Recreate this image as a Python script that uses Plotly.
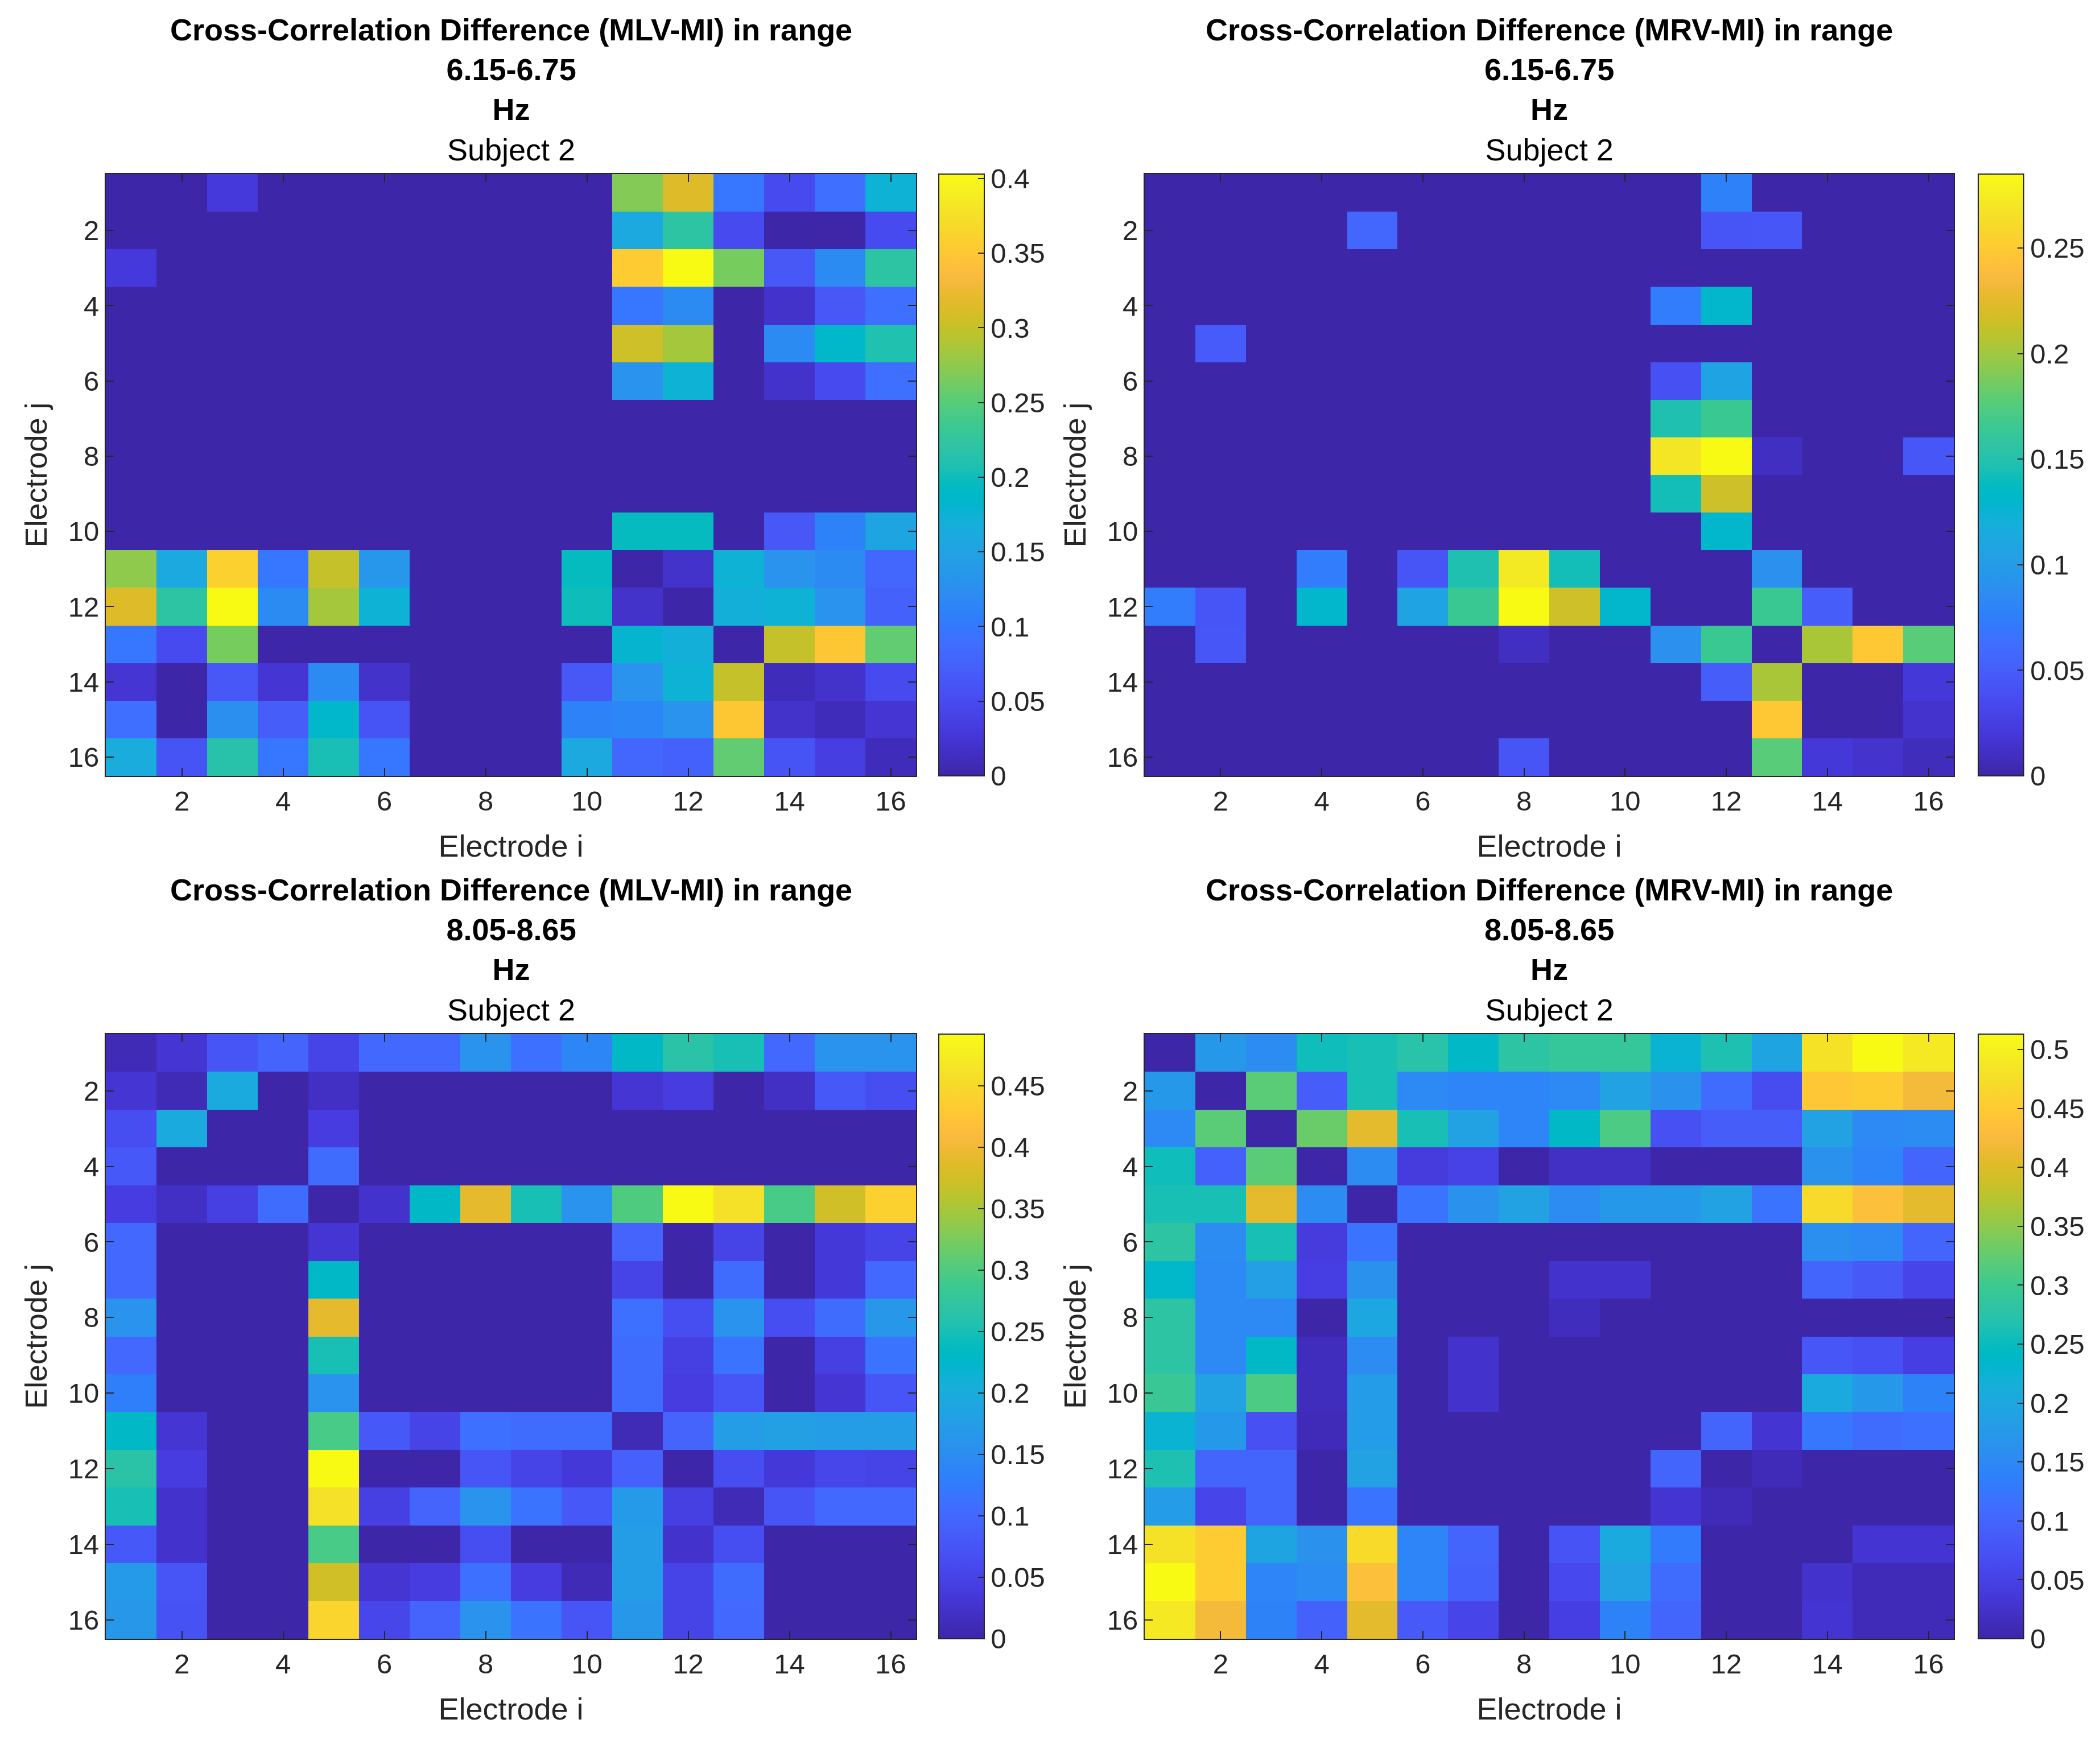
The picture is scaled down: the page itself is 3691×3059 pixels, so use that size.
import plotly.graph_objects as go

# electrode indices
electrodes = list(range(1, 17))

# Cross-correlation differences, rows = electrode j (1..16), cols = electrode i (1..16)
mlv_low = [
    [0, 0, 0.03, 0, 0, 0, 0, 0, 0, 0, 0.27, 0.315, 0.097, 0.05, 0.09, 0.175],
    [0, 0, 0, 0, 0, 0, 0, 0, 0, 0, 0.16, 0.22, 0.05, 0, 0, 0.05],
    [0.03, 0, 0, 0, 0, 0, 0, 0, 0, 0, 0.355, 0.403, 0.265, 0.065, 0.12, 0.22],
    [0, 0, 0, 0, 0, 0, 0, 0, 0, 0, 0.097, 0.12, 0, 0.02, 0.065, 0.09],
    [0, 0, 0, 0, 0, 0, 0, 0, 0, 0, 0.305, 0.285, 0, 0.12, 0.185, 0.21],
    [0, 0, 0, 0, 0, 0, 0, 0, 0, 0, 0.13, 0.175, 0, 0.02, 0.05, 0.09],
    [0, 0, 0, 0, 0, 0, 0, 0, 0, 0, 0, 0, 0, 0, 0, 0],
    [0, 0, 0, 0, 0, 0, 0, 0, 0, 0, 0, 0, 0, 0, 0, 0],
    [0, 0, 0, 0, 0, 0, 0, 0, 0, 0, 0, 0, 0, 0, 0, 0],
    [0, 0, 0, 0, 0, 0, 0, 0, 0, 0, 0.195, 0.195, 0, 0.065, 0.11, 0.155],
    [0.275, 0.16, 0.36, 0.097, 0.30, 0.135, 0, 0, 0, 0.195, 0, 0.02, 0.175, 0.13, 0.12, 0.08],
    [0.315, 0.22, 0.403, 0.12, 0.285, 0.175, 0, 0, 0, 0.20, 0.02, 0, 0.17, 0.175, 0.13, 0.075],
    [0.097, 0.05, 0.265, 0, 0, 0, 0, 0, 0, 0, 0.18, 0.17, 0, 0.30, 0.35, 0.255],
    [0.025, 0, 0.065, 0.025, 0.12, 0.02, 0, 0, 0, 0.065, 0.13, 0.175, 0.30, 0.01, 0.02, 0.05],
    [0.09, 0, 0.125, 0.07, 0.185, 0.06, 0, 0, 0, 0.11, 0.115, 0.13, 0.35, 0.02, 0.01, 0.025],
    [0.165, 0.06, 0.215, 0.097, 0.205, 0.097, 0, 0, 0, 0.16, 0.08, 0.075, 0.255, 0.06, 0.035, 0.01],
]

mrv_low = [
    [0, 0, 0, 0, 0, 0, 0, 0, 0, 0, 0, 0.077, 0, 0, 0, 0],
    [0, 0, 0, 0, 0.057, 0, 0, 0, 0, 0, 0, 0.043, 0.045, 0, 0, 0],
    [0, 0, 0, 0, 0, 0, 0, 0, 0, 0, 0, 0, 0, 0, 0, 0],
    [0, 0, 0, 0, 0, 0, 0, 0, 0, 0, 0.074, 0.13, 0, 0, 0, 0],
    [0, 0.048, 0, 0, 0, 0, 0, 0, 0, 0, 0, 0, 0, 0, 0, 0],
    [0, 0, 0, 0, 0, 0, 0, 0, 0, 0, 0.04, 0.108, 0, 0, 0, 0],
    [0, 0, 0, 0, 0, 0, 0, 0, 0, 0, 0.148, 0.165, 0, 0, 0, 0],
    [0, 0, 0, 0, 0, 0, 0, 0, 0, 0, 0.27, 0.285, 0.01, 0, 0, 0.045],
    [0, 0, 0, 0, 0, 0, 0, 0, 0, 0, 0.143, 0.216, 0, 0, 0, 0],
    [0, 0, 0, 0, 0, 0, 0, 0, 0, 0, 0, 0.13, 0, 0, 0, 0],
    [0, 0, 0, 0.074, 0, 0.043, 0.148, 0.273, 0.143, 0, 0, 0, 0.09, 0, 0, 0],
    [0.074, 0.043, 0, 0.13, 0, 0.108, 0.165, 0.285, 0.216, 0.13, 0, 0, 0.165, 0.05, 0, 0],
    [0, 0.045, 0, 0, 0, 0, 0, 0.01, 0, 0, 0.09, 0.165, 0, 0.203, 0.248, 0.177],
    [0, 0, 0, 0, 0, 0, 0, 0, 0, 0, 0, 0.05, 0.203, 0, 0, 0.02],
    [0, 0, 0, 0, 0, 0, 0, 0, 0, 0, 0, 0, 0.248, 0, 0, 0.015],
    [0, 0, 0, 0, 0, 0, 0, 0.043, 0, 0, 0, 0, 0.177, 0.02, 0.015, 0.008],
]

mlv_high = [
    [0.01, 0.03, 0.075, 0.095, 0.05, 0.10, 0.10, 0.16, 0.11, 0.14, 0.23, 0.265, 0.25, 0.10, 0.16, 0.16],
    [0.03, 0.01, 0.197, 0, 0.02, 0, 0, 0, 0, 0, 0.03, 0.04, 0, 0.02, 0.08, 0.065],
    [0.065, 0.197, 0, 0, 0.04, 0, 0, 0, 0, 0, 0, 0, 0, 0, 0, 0],
    [0.08, 0, 0, 0, 0.105, 0, 0, 0, 0, 0, 0, 0, 0, 0, 0, 0],
    [0.04, 0.02, 0.045, 0.105, 0, 0.025, 0.23, 0.39, 0.25, 0.16, 0.30, 0.492, 0.46, 0.295, 0.375, 0.44],
    [0.10, 0, 0, 0, 0.03, 0, 0, 0, 0, 0, 0.095, 0, 0.05, 0, 0.035, 0.05],
    [0.10, 0, 0, 0, 0.23, 0, 0, 0, 0, 0, 0.05, 0, 0.105, 0, 0.035, 0.10],
    [0.16, 0, 0, 0, 0.39, 0, 0, 0, 0, 0, 0.11, 0.065, 0.16, 0.065, 0.105, 0.165],
    [0.10, 0, 0, 0, 0.25, 0, 0, 0, 0, 0, 0.105, 0.045, 0.115, 0, 0.045, 0.115],
    [0.13, 0, 0, 0, 0.16, 0, 0, 0, 0, 0, 0.105, 0.04, 0.075, 0, 0.03, 0.075],
    [0.23, 0.03, 0, 0, 0.295, 0.08, 0.05, 0.11, 0.105, 0.105, 0.01, 0.095, 0.175, 0.18, 0.175, 0.175],
    [0.265, 0.04, 0, 0, 0.492, 0, 0, 0.075, 0.05, 0.035, 0.09, 0, 0.065, 0.035, 0.055, 0.05],
    [0.25, 0.025, 0, 0, 0.46, 0.045, 0.095, 0.16, 0.115, 0.08, 0.17, 0.045, 0.01, 0.075, 0.10, 0.10],
    [0.08, 0.025, 0, 0, 0.295, 0, 0, 0.065, 0, 0, 0.175, 0.025, 0.065, 0, 0, 0],
    [0.17, 0.075, 0, 0, 0.375, 0.03, 0.04, 0.11, 0.04, 0.01, 0.175, 0.05, 0.105, 0, 0, 0],
    [0.165, 0.07, 0, 0, 0.445, 0.055, 0.095, 0.16, 0.115, 0.075, 0.165, 0.05, 0.10, 0, 0, 0],
]

mrv_high = [
    [0, 0.175, 0.155, 0.255, 0.26, 0.275, 0.24, 0.28, 0.29, 0.29, 0.225, 0.265, 0.195, 0.48, 0.513, 0.49],
    [0.175, 0, 0.32, 0.09, 0.26, 0.15, 0.145, 0.145, 0.15, 0.19, 0.165, 0.11, 0.065, 0.445, 0.45, 0.42],
    [0.15, 0.32, 0, 0.33, 0.405, 0.26, 0.19, 0.145, 0.24, 0.31, 0.07, 0.09, 0.09, 0.19, 0.15, 0.155],
    [0.255, 0.095, 0.32, 0, 0.155, 0.04, 0.05, 0, 0.02, 0.02, 0, 0, 0, 0.165, 0.145, 0.10],
    [0.26, 0.26, 0.405, 0.155, 0, 0.12, 0.165, 0.19, 0.155, 0.175, 0.175, 0.19, 0.12, 0.47, 0.435, 0.405],
    [0.28, 0.155, 0.26, 0.04, 0.12, 0, 0, 0, 0, 0, 0, 0, 0, 0.16, 0.15, 0.10],
    [0.235, 0.15, 0.185, 0.045, 0.165, 0, 0, 0, 0.025, 0.025, 0, 0, 0, 0.10, 0.085, 0.055],
    [0.28, 0.15, 0.15, 0, 0.2, 0, 0, 0, 0.015, 0, 0, 0, 0, 0, 0, 0],
    [0.28, 0.15, 0.24, 0.015, 0.155, 0, 0.025, 0, 0, 0, 0, 0, 0, 0.08, 0.07, 0.045],
    [0.295, 0.19, 0.31, 0.015, 0.18, 0, 0.025, 0, 0, 0, 0, 0, 0, 0.205, 0.175, 0.14],
    [0.225, 0.175, 0.07, 0.01, 0.18, 0, 0, 0, 0, 0, 0, 0.10, 0.03, 0.125, 0.11, 0.115],
    [0.265, 0.10, 0.10, 0, 0.19, 0, 0, 0, 0, 0, 0.10, 0, 0.01, 0, 0, 0],
    [0.18, 0.055, 0.10, 0, 0.12, 0, 0, 0, 0, 0, 0.03, 0.01, 0, 0, 0, 0],
    [0.48, 0.45, 0.195, 0.165, 0.47, 0.145, 0.10, 0, 0.075, 0.205, 0.13, 0, 0, 0, 0.03, 0.03],
    [0.513, 0.45, 0.145, 0.155, 0.435, 0.145, 0.095, 0, 0.06, 0.19, 0.11, 0, 0, 0.025, 0.01, 0.01],
    [0.49, 0.42, 0.14, 0.095, 0.405, 0.085, 0.055, 0, 0.045, 0.14, 0.10, 0, 0, 0.03, 0.01, 0.01],
]

panels = [
    ("MLV-MI", "6.15-6.75", mlv_low),
    ("MRV-MI", "6.15-6.75", mrv_low),
    ("MLV-MI", "8.05-8.65", mlv_high),
    ("MRV-MI", "8.05-8.65", mrv_high),
]
cbar_ticks = [
    [0, 0.05, 0.1, 0.15, 0.2, 0.25, 0.3, 0.35, 0.4],
    [0, 0.05, 0.1, 0.15, 0.2, 0.25],
    [0, 0.05, 0.1, 0.15, 0.2, 0.25, 0.3, 0.35, 0.4, 0.45],
    [0, 0.05, 0.1, 0.15, 0.2, 0.25, 0.3, 0.35, 0.4, 0.45, 0.5],
]

# MATLAB parula (64)
parula = [
    (0.2422, 0.1504, 0.6603), (0.2504, 0.1650, 0.7076), (0.2578, 0.1818, 0.7511), (0.2647, 0.1978, 0.7952),
    (0.2706, 0.2147, 0.8364), (0.2751, 0.2342, 0.8710), (0.2783, 0.2559, 0.8991), (0.2803, 0.2782, 0.9221),
    (0.2813, 0.3006, 0.9414), (0.2810, 0.3228, 0.9579), (0.2795, 0.3447, 0.9717), (0.2760, 0.3667, 0.9829),
    (0.2699, 0.3892, 0.9906), (0.2602, 0.4123, 0.9952), (0.2440, 0.4358, 0.9988), (0.2206, 0.4603, 0.9973),
    (0.1963, 0.4847, 0.9892), (0.1834, 0.5074, 0.9798), (0.1786, 0.5289, 0.9682), (0.1764, 0.5499, 0.9520),
    (0.1687, 0.5703, 0.9359), (0.1540, 0.5902, 0.9218), (0.1460, 0.6091, 0.9079), (0.1380, 0.6276, 0.8973),
    (0.1248, 0.6459, 0.8883), (0.1113, 0.6635, 0.8763), (0.0952, 0.6798, 0.8598), (0.0689, 0.6948, 0.8394),
    (0.0297, 0.7082, 0.8163), (0.0036, 0.7203, 0.7917), (0.0067, 0.7312, 0.7660), (0.0433, 0.7411, 0.7394),
    (0.0964, 0.7500, 0.7120), (0.1408, 0.7584, 0.6842), (0.1717, 0.7670, 0.6554), (0.1938, 0.7758, 0.6251),
    (0.2161, 0.7843, 0.5923), (0.2470, 0.7918, 0.5567), (0.2906, 0.7973, 0.5188), (0.3406, 0.8008, 0.4789),
    (0.3909, 0.8029, 0.4354), (0.4456, 0.8024, 0.3909), (0.5044, 0.7993, 0.3480), (0.5616, 0.7942, 0.3045),
    (0.6174, 0.7876, 0.2612), (0.6720, 0.7793, 0.2227), (0.7242, 0.7698, 0.1910), (0.7738, 0.7598, 0.1646),
    (0.8203, 0.7498, 0.1535), (0.8634, 0.7406, 0.1596), (0.9035, 0.7330, 0.1774), (0.9393, 0.7288, 0.2100),
    (0.9728, 0.7298, 0.2394), (0.9956, 0.7434, 0.2371), (0.9970, 0.7659, 0.2199), (0.9952, 0.7893, 0.2028),
    (0.9892, 0.8136, 0.1885), (0.9786, 0.8386, 0.1766), (0.9676, 0.8639, 0.1643), (0.9610, 0.8890, 0.1537),
    (0.9597, 0.9135, 0.1423), (0.9628, 0.9373, 0.1265), (0.9691, 0.9606, 0.1064), (0.9769, 0.9839, 0.0805),
]
colorscale = [[i / 63, "rgb(%d,%d,%d)" % (r * 255, g * 255, b * 255)] for i, (r, g, b) in enumerate(parula)]

# the page body has an 8px margin, so work in page pixels minus 8
OFF = 8
W, H = 3691 - 2 * OFF, 3059 - 2 * OFF
FONT = "Liberation Sans, Arial, Helvetica, sans-serif"
AX = "#262626"


def px_x(v):
    return (v - OFF) / W


def px_y(v):
    return 1 - (v - OFF) / H


x_doms = [[px_x(186), px_x(1610)], [px_x(2012), px_x(3434)]]
y_doms = [[px_y(1364), px_y(306)], [px_y(2881), px_y(1818)]]
cbar_x = [px_x(1650), px_x(3477)]

fig = go.Figure()
layout = {}
annotations = []

for k, (pair, band, z) in enumerate(panels):
    row, col = divmod(k, 2)
    n = "" if k == 0 else str(k + 1)
    xd, yd = x_doms[col], y_doms[row]
    fig.add_trace(go.Heatmap(
        z=z, x=electrodes, y=electrodes,
        xaxis="x" + n, yaxis="y" + n,
        colorscale=colorscale, zmin=0,
        colorbar=dict(
            x=cbar_x[col], xanchor="left", xpad=0, ypad=0,
            y=(yd[0] + yd[1]) / 2, yanchor="middle", len=yd[1] - yd[0], lenmode="fraction",
            thickness=80, outlinewidth=2, outlinecolor=AX,
            ticks="inside", ticklen=12, tickwidth=2, tickcolor=AX,
            tickvals=cbar_ticks[k], ticktext=["%g" % v for v in cbar_ticks[k]],
            tickfont=dict(family=FONT, size=49, color=AX),
        ),
    ))
    layout["xaxis" + n] = dict(
        domain=xd, anchor="y" + n, range=[0.5, 16.5],
        tickvals=list(range(2, 17, 2)), ticks="inside", ticklen=14, tickwidth=2, tickcolor=AX,
        showline=True, linecolor=AX, linewidth=2, mirror="ticks", showgrid=False, zeroline=False,
        tickfont=dict(family=FONT, size=49, color=AX),
        title=dict(text="Electrode i", font=dict(family=FONT, size=54, color=AX), standoff=34),
    )
    layout["yaxis" + n] = dict(
        domain=yd, anchor="x" + n, range=[16.5, 0.5],
        tickvals=list(range(2, 17, 2)), ticks="inside", ticklen=14, tickwidth=2, tickcolor=AX,
        showline=True, linecolor=AX, linewidth=2, mirror="ticks", showgrid=False, zeroline=False,
        tickfont=dict(family=FONT, size=49, color=AX),
        title=dict(text="Electrode j", font=dict(family=FONT, size=54, color=AX), standoff=20),
    )
    annotations.append(dict(
        xref="paper", yref="paper", x=(xd[0] + xd[1]) / 2, y=yd[1],
        xanchor="center", yanchor="bottom", yshift=11, showarrow=False,
        text="<b>Cross-Correlation Difference (%s) in range</b><br><b>%s</b><br><b>Hz</b><br>Subject 2" % (pair, band),
        font=dict(family=FONT, size=54, color="black"),
    ))

fig.update_layout(
    width=W, height=H,
    margin=dict(l=0, r=0, t=0, b=0),
    paper_bgcolor="white", plot_bgcolor="white",
    annotations=annotations,
    **layout,
)

fig.write_html("out.html")
